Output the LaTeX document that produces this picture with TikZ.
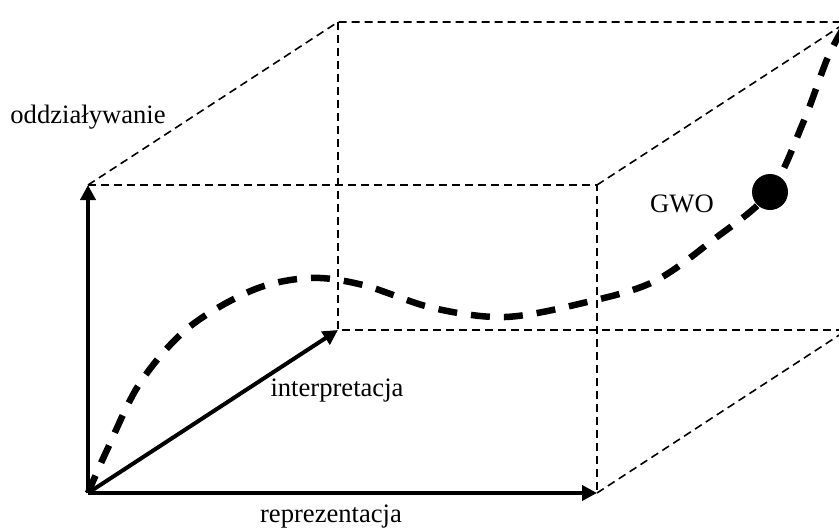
\documentclass[tikz,border=0pt]{standalone}
\usepackage{fontspec}
\setmainfont{Liberation Serif}
\usetikzlibrary{arrows.meta}
\begin{document}
\begin{tikzpicture}[x=1pt,y=-1pt,
  edge/.style={line width=1.6pt,dash pattern=on 8pt off 5pt},
  axis/.style={line width=4pt,-{Triangle[length=15pt,width=15pt]}},
  path/.style={line width=6.5pt,dash pattern=on 19pt off 14pt},
  lbl/.style={font=\fontsize{26.6}{30}\selectfont,inner sep=0pt}]
\useasboundingbox (0,0) rectangle (839,531);
\clip (0,0) rectangle (839,531);
% corners of the box (front face and back face)
\coordinate (O)   at (88,493);
\coordinate (FTL) at (88,185);
\coordinate (FTR) at (597,185);
\coordinate (FBR) at (597,493);
\coordinate (BBL) at (338,330);
\coordinate (BTL) at (338,22);
\coordinate (BTR) at (847,22);
\coordinate (BBR) at (847,330);
% dashed box edges
\draw[edge] (FTL) -- (FTR) -- (FBR);
\draw[edge] (FTL) -- (BTL) -- (BTR);
\draw[edge] (BTL) -- (BBL) -- (BBR);
\draw[edge] (FTR) -- (BTR);
\draw[edge] (FBR) -- (BBR);
% trajectory through the space
\draw[path] plot[smooth,tension=0.55] coordinates {(O) (107,450) (140,383) (188,328)
  (253,290) (310,278) (363,285) (433,308) (505,317) (583,303) (653,282)
  (713,240) (770,192) (803,123) (828,57) (BTR)};
\fill (770,192) circle (18);
% axes
\draw[axis] (O) -- (FTL);
\draw[axis] (O) -- (BBL);
\draw[axis] (O) -- (FBR);
% labels
\node[lbl] (ax1) at (88,117) {oddziaływanie};
\node[lbl] (ax2) at (337,391) {interpretacja};
\node[lbl] (ax3) at (331,517) {reprezentacja};
\node[lbl] (gwo) at (682,204) {GWO};
\end{tikzpicture}
\end{document}
